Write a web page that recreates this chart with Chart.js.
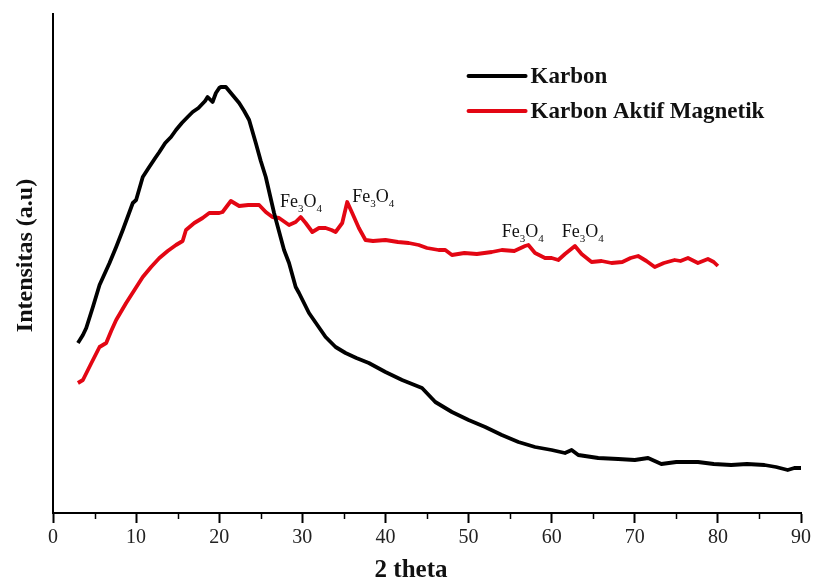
<!DOCTYPE html>
<html>
<head>
<meta charset="utf-8">
<script src="https://cdn.jsdelivr.net/npm/chart.js@4/dist/chart.umd.min.js"></script>
<style>
  html, body { margin: 0; padding: 0; background: #fff; }
  #wrap { width: 814px; height: 580px; }
</style>
</head>
<body>
<div id="wrap"><canvas id="xrd"></canvas></div>
<script>
// 2 theta (deg) and intensity (a.u.)
const karbonX = [3.0, 3.6, 4.0, 4.8, 5.6, 6.8, 7.6, 8.4, 9.6, 10.0, 10.8, 11.5, 12.3, 12.8, 13.5, 14.2, 14.8, 15.5, 16.2, 16.8, 17.5, 18.3, 18.6, 19.2, 19.6, 20.0, 20.2, 20.8, 21.4, 22.4, 23.0, 23.6, 24.4, 25.0, 25.6, 26.6, 27.8, 28.4, 29.2, 29.6, 30.8, 31.8, 32.8, 34.0, 35.2, 36.5, 38.0, 40.0, 42.0, 43.5, 44.4, 45.2, 46.0, 48.0, 50.0, 52.0, 54.0, 56.0, 58.0, 60.0, 61.6, 62.4, 63.2, 65.6, 68.0, 70.0, 71.6, 73.2, 75.0, 77.6, 79.5, 81.6, 83.5, 85.6, 87.0, 88.4, 89.2, 90.0]
const karbonY = [170, 178, 185, 206, 228, 250, 266, 283, 310, 313, 336, 345, 355, 361, 370, 376, 383, 390, 396, 401, 405, 412, 416, 411, 420, 425, 426, 426, 420, 410, 402, 393, 370, 352, 336, 300, 263, 250, 226, 220, 200, 188, 176, 166, 160, 155, 150, 141, 133, 128, 125, 118, 111, 101, 93, 86, 78, 71, 66, 63, 60, 63, 58, 55, 54, 53, 55, 49, 51, 51, 49, 48, 49, 48, 46, 43, 45, 45]

const magX = [3.0, 3.6, 4.5, 5.6, 6.4, 7.0, 7.6, 8.8, 9.8, 10.8, 11.8, 12.8, 13.8, 14.8, 15.6, 16.0, 17.0, 18.0, 18.8, 20.0, 20.4, 21.4, 22.4, 23.5, 24.8, 25.6, 26.4, 27.2, 28.4, 29.2, 29.8, 30.4, 31.2, 32.0, 32.8, 33.5, 34.0, 34.8, 35.4, 36.0, 36.8, 37.6, 38.5, 40.0, 41.5, 42.8, 44.0, 45.0, 46.4, 47.2, 48.0, 49.5, 51.0, 52.8, 54.0, 55.5, 56.8, 57.2, 58.0, 59.2, 60.0, 60.8, 61.6, 62.8, 63.6, 64.8, 66.0, 67.2, 68.5, 69.5, 70.4, 71.4, 72.4, 73.5, 74.8, 75.5, 76.4, 77.6, 78.8, 79.5, 80.0]
const magY = [130, 133, 148, 166, 170, 182, 193, 210, 223, 236, 246, 255, 262, 268, 272, 283, 290, 295, 300, 300, 301, 312, 307, 308, 308, 301, 296, 295, 288, 291, 296, 290, 281, 285, 285, 283, 281, 290, 311, 300, 285, 273, 272, 273, 271, 270, 268, 265, 263, 263, 258, 260, 259, 261, 263, 262, 267, 268, 260, 255, 255, 253, 259, 267, 259, 251, 252, 250, 251, 255, 257, 252, 246, 250, 253, 252, 255, 250, 254, 251, 247]

const seriesNames = ['Karbon', 'Karbon Aktif Magnetik']
const xTicks = [0, 10, 20, 30, 40, 50, 60, 70, 80, 90]
const xTitle = '2 theta'
const yTitle = 'Intensitas (a.u)'
// Fe3O4 peak labels: left edge x (2 theta) and baseline y (a.u.)
const peakLabelX = [27.3, 36.0, 54.0, 61.2]
const peakLabelY = [306, 311, 276, 276]

const serif = "'Liberation Serif', 'Times New Roman', serif"

function toPoints(xs, ys) {
    return xs.map((x, i) => ({ x: x, y: ys[i] }))
}

const minorTicks = {
    id: 'minorTicks',
    afterDraw(chart) {
        const ctx = chart.ctx
        const xs = chart.scales.x
        ctx.save()
        ctx.strokeStyle = '#000'
        ctx.lineWidth = 1.5
        for (let v = 5; v < 90; v += 10) {
            const px = Math.round(xs.getPixelForValue(v)) + 0.5
            ctx.beginPath()
            ctx.moveTo(px, xs.top)
            ctx.lineTo(px, xs.top + 6)
            ctx.stroke()
        }
        ctx.restore()
    }
}

const axisTitles = {
    id: 'axisTitles',
    afterDraw(chart) {
        const ctx = chart.ctx
        const area = chart.chartArea
        ctx.save()
        ctx.fillStyle = '#111'
        ctx.font = 'bold 25px ' + serif
        ctx.textAlign = 'center'
        ctx.textBaseline = 'alphabetic'
        ctx.fillText(xTitle, (area.left + area.right) / 2 - 16, 577)
        ctx.translate(32, (area.top + area.bottom) / 2 - 8)
        ctx.rotate(-Math.PI / 2)
        ctx.font = 'bold 24px ' + serif
        ctx.fillText(yTitle, 0, 0)
        ctx.restore()
    }
}

const peakLabels = {
    id: 'peakLabels',
    afterDatasetsDraw(chart) {
        const ctx = chart.ctx
        const xs = chart.scales.x
        const ys = chart.scales.y
        ctx.save()
        ctx.fillStyle = '#111'
        ctx.textBaseline = 'alphabetic'
        ctx.textAlign = 'left'
        peakLabelX.forEach((v, i) => {
            let px = xs.getPixelForValue(v)
            const py = ys.getPixelForValue(peakLabelY[i])
            const parts = [['Fe', 18, 0], ['3', 11, 5], ['O', 18, 0], ['4', 11, 5]]
            parts.forEach(p => {
                ctx.font = p[1] + 'px ' + serif
                ctx.fillText(p[0], px, py + p[2])
                px += ctx.measureText(p[0]).width
            })
        })
        ctx.restore()
    }
}

const sideLegend = {
    id: 'sideLegend',
    afterDraw(chart) {
        const ctx = chart.ctx
        const xs = chart.scales.x
        const ys = chart.scales.y
        // legend anchored in the upper right of the plot
        const x0 = xs.getPixelForValue(50)
        let y0 = ys.getPixelForValue(437)
        ctx.save()
        chart.data.datasets.forEach(ds => {
            ctx.strokeStyle = ds.borderColor
            ctx.lineWidth = 4
            ctx.lineCap = 'round'
            ctx.beginPath()
            ctx.moveTo(x0, y0)
            ctx.lineTo(x0 + 57, y0)
            ctx.stroke()
            ctx.fillStyle = '#111'
            ctx.font = 'bold 23px ' + serif
            ctx.textBaseline = 'middle'
            ctx.fillText(ds.label, x0 + 62, y0 + 1)
            y0 += 35
        })
        ctx.restore()
    }
}

new Chart(document.querySelector('#xrd'), {
    type: 'line',
    data: {
        datasets: [
            {
                label: seriesNames[0],
                data: toPoints(karbonX, karbonY),
                borderColor: '#000000',
                borderWidth: 3.8,
                pointRadius: 0,
                tension: 0,
                borderJoinStyle: 'round'
            },
            {
                label: seriesNames[1],
                data: toPoints(magX, magY),
                borderColor: '#e30613',
                borderWidth: 3.8,
                pointRadius: 0,
                tension: 0,
                borderJoinStyle: 'round'
            }
        ]
    },
    options: {
        responsive: true,
        maintainAspectRatio: false,
        animation: false,
        layout: { padding: { top: 14, right: 7, left: 0, bottom: 0 } },
        plugins: {
            legend: { display: false },
            tooltip: { enabled: false }
        },
        scales: {
            x: {
                type: 'linear',
                min: 0,
                max: 90,
                afterFit(scale) { scale.height = 67 },
                afterBuildTicks(scale) { scale.ticks = xTicks.map(v => ({ value: v })) },
                border: { display: true, color: '#000', width: 2 },
                grid: { display: true, drawOnChartArea: false, drawTicks: true, tickLength: 10, tickWidth: 2, color: '#000' },
                ticks: {
                    color: '#222',
                    padding: 3,
                    maxRotation: 0,
                    autoSkip: false,
                    font: { family: serif, size: 20 }
                },
                title: { display: false }
            },
            y: {
                type: 'linear',
                min: 0,
                max: 499,
                afterFit(scale) { scale.width = 53 },
                border: { display: true, color: '#000', width: 2 },
                grid: { display: false },
                ticks: { display: false },
                title: { display: false }
            }
        }
    },
    plugins: [minorTicks, peakLabels, sideLegend, axisTitles]
})
</script>
</body>
</html>
